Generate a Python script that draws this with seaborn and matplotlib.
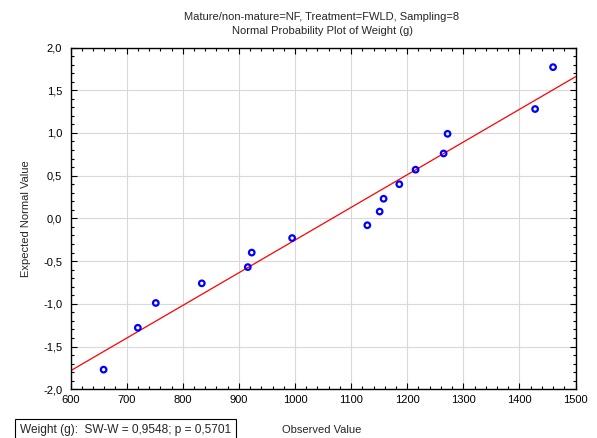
import numpy as np
import pandas as pd
import matplotlib
matplotlib.use("Agg")
import matplotlib.pyplot as plt
from matplotlib.ticker import MultipleLocator, FuncFormatter
import seaborn as sns

# Observed weights (g), sorted, and their expected normal scores
observed = [659, 720, 752, 834, 916, 923, 995, 1129, 1151, 1158,
            1186, 1215, 1265, 1272, 1428, 1460]
expected = [-1.77, -1.28, -0.99, -0.76, -0.57, -0.40, -0.23, -0.08,
            0.08, 0.23, 0.40, 0.57, 0.76, 0.99, 1.28, 1.77]

title_lines = ["Mature/non-mature=NF, Treatment=FWLD, Sampling=8",
               "Normal Probability Plot of Weight (g)"]
stats_text = "Weight (g):  SW-W = 0,9548; p = 0,5701"
x_ticks = [600, 700, 800, 900, 1000, 1100, 1200, 1300, 1400, 1500]
y_ticks = [-2.0, -1.5, -1.0, -0.5, 0.0, 0.5, 1.0, 1.5, 2.0]

df = pd.DataFrame({"Observed": observed, "Expected": expected})

sns.set_style("white")
plt.rcParams["font.family"] = ["Liberation Sans", "DejaVu Sans"]

fig = plt.figure(figsize=(5.97, 4.38), dpi=100)
ax = fig.add_axes([70.5 / 597, 1 - 389.3 / 438, 505 / 597, (389.3 - 47.5) / 438])

# Least-squares reference line of expected score on observed value
slope, intercept = np.polyfit(df["Observed"], df["Expected"], 1)
xl = np.array([x_ticks[0], x_ticks[-1]])
ax.plot(xl, intercept + slope * xl, color="#ff0000", lw=0.9, zorder=2)

sns.scatterplot(data=df, x="Observed", y="Expected", ax=ax,
                marker="o", s=16, facecolor="none", edgecolor="#0000ff",
                linewidth=1.6, zorder=3)

ax.set_xlim(x_ticks[0], x_ticks[-1])
ax.set_ylim(y_ticks[0], y_ticks[-1])
ax.set_xticks(x_ticks)
ax.set_yticks(y_ticks)
ax.xaxis.set_minor_locator(MultipleLocator(20))
ax.yaxis.set_minor_locator(MultipleLocator(0.1))
ax.yaxis.set_major_formatter(FuncFormatter(lambda v, p: f"{v:.1f}".replace(".", ",")))
ax.tick_params(which="both", direction="in", top=True, right=True,
               bottom=True, left=True, colors="black", labelsize=8)
ax.tick_params(axis="y", pad=6)
ax.tick_params(axis="x", pad=4)
ax.tick_params(which="major", length=4, width=0.8)
ax.tick_params(which="minor", length=2.5, width=0.8)
ax.grid(True, which="major", color="#d9d9d9", lw=0.8, zorder=0)
ax.set_axisbelow(True)
for s in ax.spines.values():
    s.set_color("black")
    s.set_linewidth(1.0)

ax.set_xlabel("Observed Value", fontsize=8)
ax.set_ylabel("Expected Normal Value", fontsize=8)
ax.xaxis.set_label_coords((322 - 70.5) / 505, -(425 - 389.3) / (389.3 - 47.5))
ax.yaxis.set_label_coords(-(70.5 - 31) / 505, 0.5)

fig.text(322 / 597, 1 - 17 / 438, title_lines[0], ha="center", va="center", fontsize=8)
fig.text(322 / 597, 1 - 31 / 438, title_lines[1], ha="center", va="center", fontsize=8)

fig.text(20 / 597, 1 - 430 / 438, stats_text, ha="left", va="center", fontsize=8.6,
         bbox=dict(boxstyle="square,pad=0.4", facecolor="white",
                   edgecolor="black", linewidth=0.8))

fig.savefig("out.png", dpi=100, facecolor="white")
